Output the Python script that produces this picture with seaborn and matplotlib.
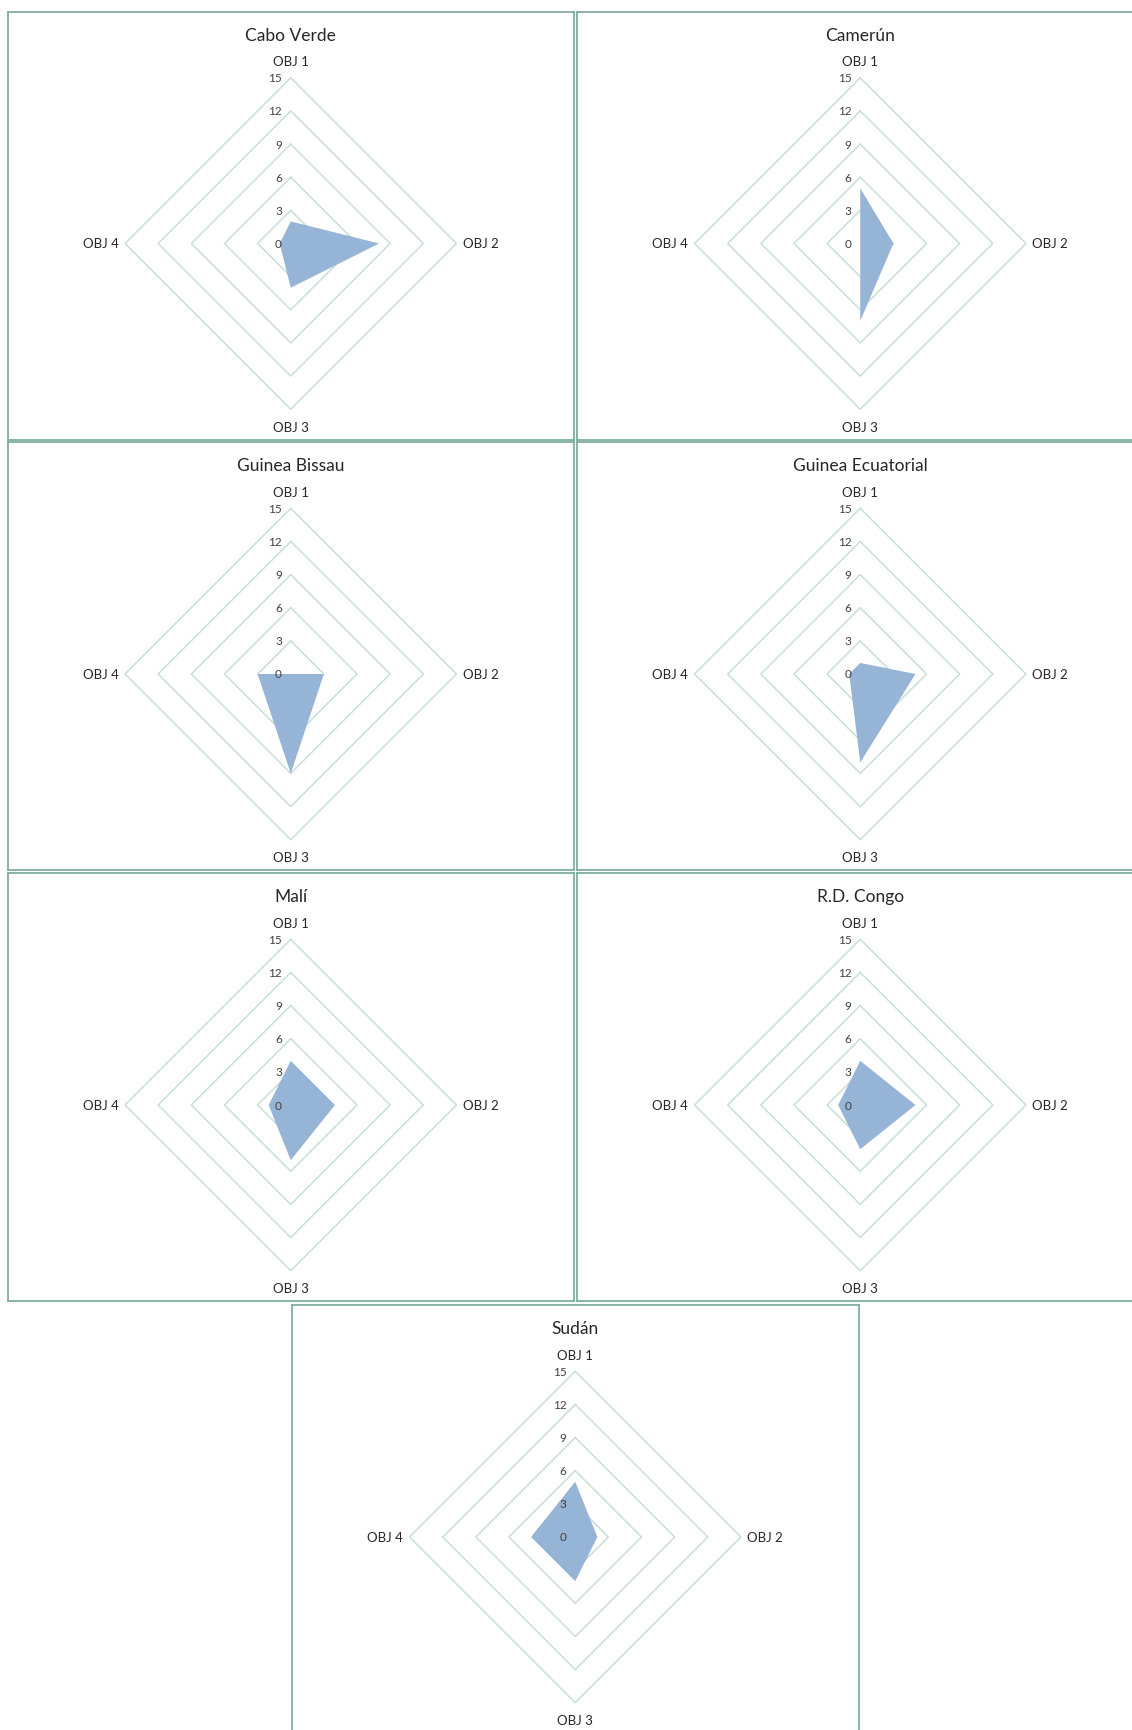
import numpy as np
import matplotlib
matplotlib.use("Agg")
import matplotlib.pyplot as plt
import seaborn as sns

# ---- data ----
countries = ["Cabo Verde", "Camerún", "Guinea Bissau", "Guinea Ecuatorial",
             "Malí", "R.D. Congo", "Sudán"]
axis_labels = ["OBJ 1", "OBJ 2", "OBJ 3", "OBJ 4"]
obj1 = [2, 5, 0, 1, 4, 4, 5]
obj2 = [8, 3, 3, 5, 4, 5, 2]
obj3 = [4, 7, 9, 8, 5, 4, 4]
obj4 = [1, 0, 3, 1, 2, 2, 4]
ticks = [0, 3, 6, 9, 12, 15]

sns.set_theme(style="white")
plt.rcParams["font.family"] = ["Lato", "DejaVu Sans"]

W, H = 1132, 1731
fig = plt.figure(figsize=(W / 100, H / 100), dpi=100)
fig.patch.set_facecolor("white")

# panel layout in pixels (left, top)
panel_w, panel_h = 566.5, 428
positions = [(7.5, 12.5), (577, 12.5), (7.5, 443), (577, 443),
             (7.5, 874), (577, 874), (292, 1306)]
scale = 165.7 / 15.0           # px per value unit
center_from_top = 232.0        # px

fill_color = "#96B4D5"
grid_color = "#C9DED8"
border_color = "#7EAE9F"

angles = np.array([0, 90, 180, 270]) * np.pi / 180.0  # OBJ1 top, clockwise


def to_xy(vals):
    v = np.asarray(vals, dtype=float)
    return v * np.sin(angles), v * np.cos(angles)


for i, name in enumerate(countries):
    left, top = positions[i]
    ax = fig.add_axes([left / W, 1 - (top + panel_h) / H, panel_w / W, panel_h / H])
    ax.set_facecolor("white")
    half_w = panel_w / 2 / scale
    ax.set_xlim(-half_w, half_w)
    ax.set_ylim(-(panel_h - center_from_top) / scale, center_from_top / scale)
    ax.set_xticks([])
    ax.set_yticks([])
    for sp in ax.spines.values():
        sp.set_visible(True)
        sp.set_color(border_color)
        sp.set_linewidth(1.3)

    # grid rings
    for t in ticks[1:]:
        gx, gy = to_xy([t] * 4)
        sns.lineplot(x=np.append(gx, gx[0]), y=np.append(gy, gy[0]), sort=False,
                     estimator=None, ax=ax, color=grid_color, linewidth=1.1, zorder=1)

    # data polygon
    vals = [obj1[i], obj2[i], obj3[i], obj4[i]]
    px, py = to_xy(vals)
    ax.fill(px, py, color=fill_color, linewidth=0, zorder=2)

    # tick labels
    for t in ticks:
        ax.text(-0.8, t, str(t), ha="right", va="center", fontsize=8.5,
                color="#404040", zorder=3)

    # axis labels
    lx, ly = to_xy([16.5, 17.2, 16.6, 17.2])
    for j, lab in enumerate(axis_labels):
        ax.text(lx[j], ly[j], lab, ha="center", va="center", fontsize=9.5,
                color="#262626", zorder=3)

    ax.text(0, 18.9, name, ha="center", va="center", fontsize=12.5,
            color="#262626", zorder=3)

fig.savefig("out.png", dpi=100, facecolor="white")
